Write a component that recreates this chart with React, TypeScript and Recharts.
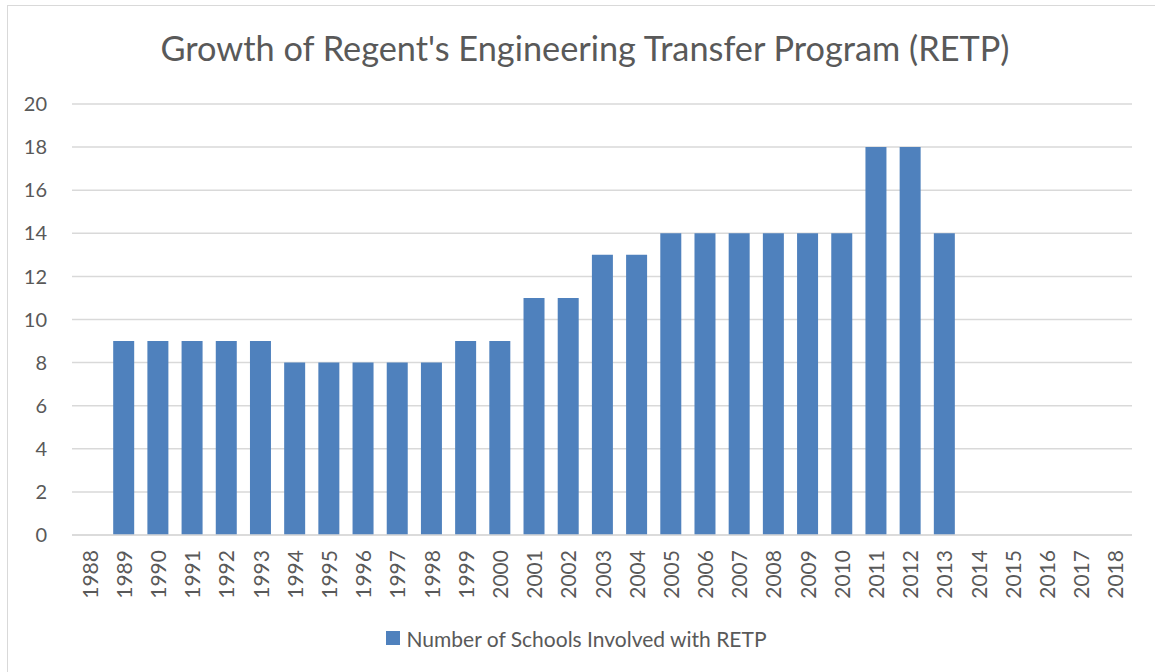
import { BarChart, Bar, XAxis, YAxis, CartesianGrid, Legend } from 'recharts'

const years = [
  '1988', '1989', '1990', '1991', '1992', '1993', '1994', '1995', '1996', '1997', '1998',
  '1999', '2000', '2001', '2002', '2003', '2004', '2005', '2006', '2007', '2008', '2009',
  '2010', '2011', '2012', '2013', '2014', '2015', '2016', '2017', '2018',
]
const schools: (number | null)[] = [
  null, 9, 9, 9, 9, 9, 8, 8, 8, 8, 8,
  9, 9, 11, 11, 13, 13, 14, 14, 14, 14, 14,
  14, 18, 18, 14, null, null, null, null, null,
]
const yTicks = [0, 2, 4, 6, 8, 10, 12, 14, 16, 18, 20]

const data = years.map((y, i) => ({ year: y, schools: schools[i] }))

const FONT = 'Lato, "Open Sans", sans-serif'
const TEXT = '#595959'
const BLUE = '#4f81bd'

function YearTick(props: any) {
  const { x, y, payload } = props
  return (
    <text
      x={x}
      y={y}
      transform={`rotate(-90, ${x}, ${y})`}
      textAnchor="end"
      dominantBaseline="central"
      fill={TEXT}
      fontSize={21}
      fontFamily={FONT}
    >
      {payload.value}
    </text>
  )
}

function LegendBox() {
  return (
    <div style={{ height: 58, paddingLeft: 21, display: 'flex', alignItems: 'center', justifyContent: 'center', fontFamily: FONT, fontSize: 21, color: TEXT }}>
      <span style={{ display: 'inline-block', width: 14, height: 14, background: BLUE, marginRight: 6 }} />
      Number of Schools Involved with RETP
    </div>
  )
}

export default function App() {
  document.body.style.margin = '0'
  return (
    <div style={{ position: 'relative', width: 1155, height: 672, background: '#fff', overflow: 'hidden' }}>
      <div
        style={{
          position: 'absolute', left: 7, top: 5, width: 1160, height: 680,
          border: '1.5px solid #d9d9d9', boxSizing: 'border-box',
        }}
      />
      <div
        style={{
          position: 'absolute', left: 0, top: 27, width: 1170, textAlign: 'center',
          fontFamily: FONT, fontSize: 34.3, color: TEXT, lineHeight: 'normal',
        }}
      >
        Growth of Regent's Engineering Transfer Program (RETP)
      </div>
      <div style={{ position: 'absolute', left: 0, top: 0 }}>
        <BarChart
          width={1155}
          height={672}
          data={data}
          margin={{ top: 104, right: 23, left: 0, bottom: 0 }}
        >
          <CartesianGrid vertical={false} stroke="#d9d9d9" strokeWidth={1.5} />
          <XAxis
            dataKey="year"
            interval={0}
            tickLine={false}
            axisLine={{ stroke: '#d9d9d9', strokeWidth: 1.5 }}
            height={74}
            tick={<YearTick />}
            tickSize={0}
            tickMargin={15}
          />
          <YAxis
            domain={[0, 20]}
            ticks={yTicks}
            width={72}
            axisLine={false}
            tickLine={false}
            tickSize={0}
            tickMargin={25}
            tick={{ fill: TEXT, fontSize: 20, fontFamily: FONT }}
          />
          <Legend
            verticalAlign="bottom"
            height={63}
            content={() => <LegendBox />}
          />
          <Bar dataKey="schools" fill={BLUE} barSize={21} isAnimationActive={false} />
        </BarChart>
      </div>
    </div>
  )
}
